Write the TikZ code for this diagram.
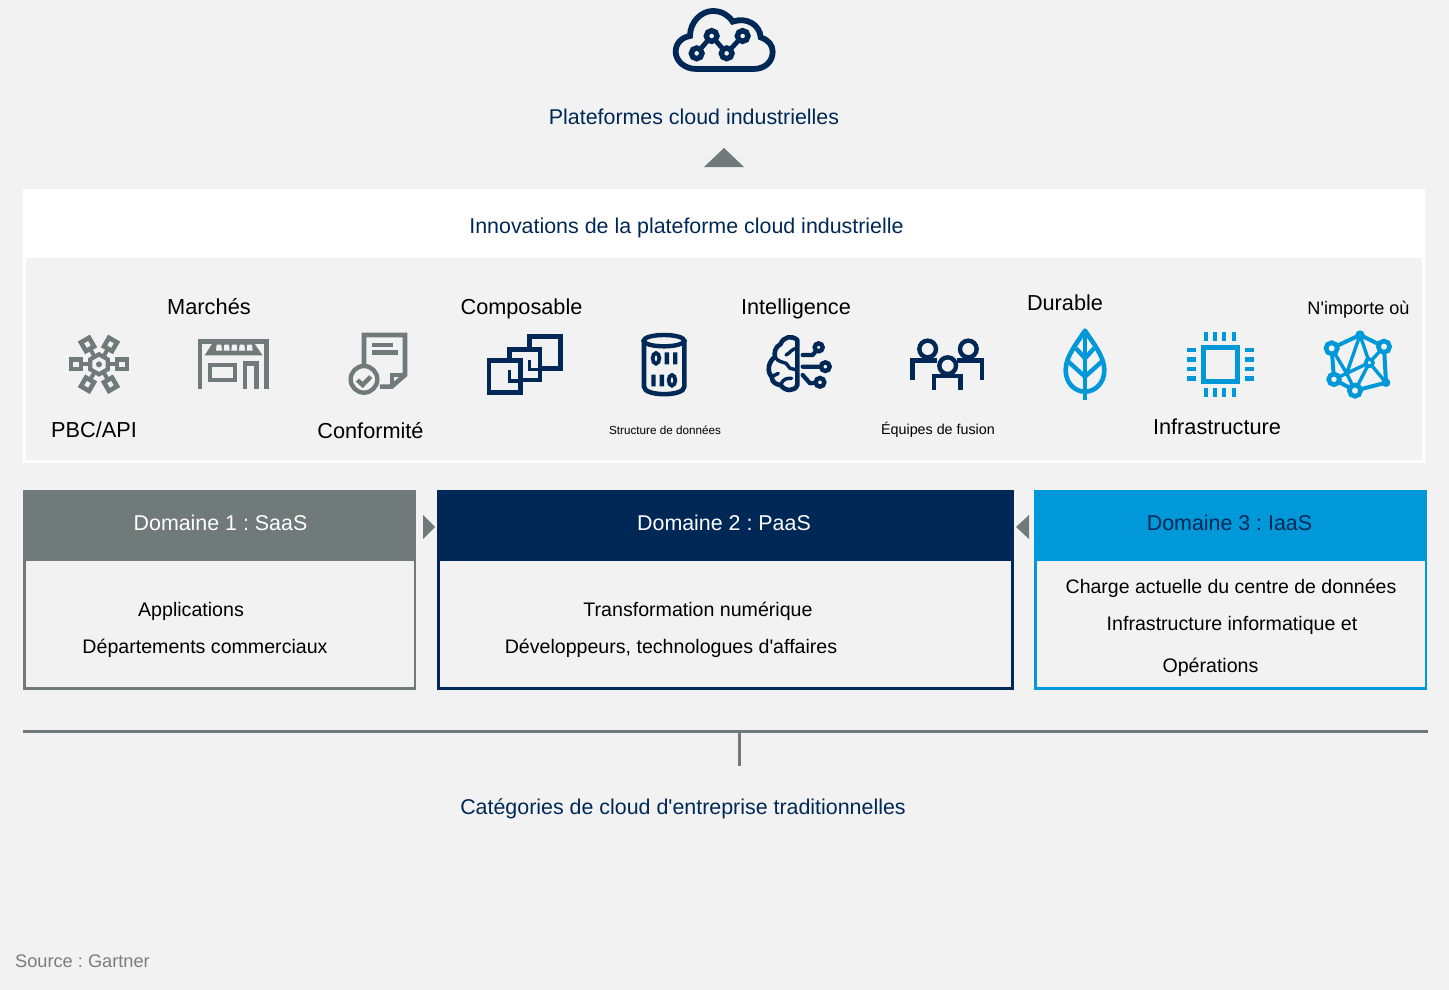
\documentclass[tikz,border=0pt]{standalone}
\usepackage{fontspec}
\setmainfont{Liberation Sans}[Ligatures=TeXOff]
\frenchspacing
\definecolor{bg}{HTML}{F2F2F2}
\definecolor{navy}{HTML}{002856}
\definecolor{sky}{HTML}{0098D8}
\definecolor{slate}{HTML}{707A79}
\definecolor{srcgrey}{HTML}{7C7C7C}
\tikzset{
  lbl/.style={anchor=base,inner sep=0pt,text=black,font=\fontsize{21.7}{24}\selectfont},
  blbl/.style={lbl,text=navy,font=\fontsize{21.4}{24}\selectfont},
  body/.style={lbl,font=\fontsize{19.6}{24}\selectfont},
  head/.style={lbl,font=\fontsize{21.4}{24}\selectfont},
  icon/.style={x=0.33333pt,y=-0.33333pt,line join=miter},
  tri/.style={fill=slate,draw=none},
}
\begin{document}
\begin{tikzpicture}[x=1pt,y=-1pt]
\useasboundingbox (0,0) rectangle (1449,990);
\fill[bg] (0,0) rectangle (1449,990);
% panel
\fill[white] (23,189) rectangle (1425,463);
\fill[bg] (26,258) rectangle (1422,460);
% domain boxes
\draw[slate,line width=2.6pt] (24.3,491.3) rectangle (415,688.7);
\fill[slate] (23,490) rectangle (416.3,560.5);
\draw[navy,line width=2.6pt] (438.3,491.3) rectangle (1012.7,688.7);
\fill[navy] (437,490) rectangle (1014,560.5);
\draw[sky,line width=2.6pt] (1035.3,491.3) rectangle (1426,688.7);
\fill[sky] (1034,490) rectangle (1427.3,560.5);
% triangles
\fill[tri] (704,167) -- (724,148) -- (744,167) -- cycle;
\fill[tri] (423,515) -- (435,527) -- (423,539) -- cycle;
\fill[tri] (1029,515) -- (1016,527) -- (1029,539) -- cycle;
% bracket
\coordinate (bl) at (23,731);
\coordinate (br) at (1428,731);
\coordinate (bm) at (739.5,731);
\coordinate (bs) at (739.5,766);
\draw[slate,line width=3pt] (bl) -- (br);
\draw[slate,line width=3pt] (bm) -- (bs);
% texts
\node[blbl] (t1) at (694,124.5) {Plateformes cloud industrielles};
\node[blbl] (t2) at (686.5,233.5) {Innovations de la plateforme cloud industrielle};
\node[lbl,font=\fontsize{21.8}{24}\selectfont] (m1) at (209,314) {Marchés};
\node[lbl] (m2) at (94,437) {PBC/API};
\node[lbl] (m3) at (370.5,438) {Conformité};
\node[lbl] (m4) at (521.5,314) {Composable};
\node[lbl,font=\fontsize{11.7}{14}\selectfont] (m5) at (665,434) {Structure de données};
\node[lbl] (m6) at (796,314) {Intelligence};
\node[lbl,font=\fontsize{14.3}{16}\selectfont] (m7) at (938,434) {Équipes de fusion};
\node[lbl] (m8) at (1065,310) {Durable};
\node[lbl] (m9) at (1217,434) {Infrastructure};
\node[lbl,font=\fontsize{18.1}{20}\selectfont] (m10) at (1358.5,314) {N'importe où};
\node[head,text=white] (d1) at (220.5,530) {Domaine 1 : SaaS};
\node[head,text=white] (d2) at (724,530) {Domaine 2 : PaaS};
\node[head,text=navy] (d3) at (1229.5,530) {Domaine 3 : IaaS};
\node[body] (b1) at (191,616) {Applications};
\node[body] (b2) at (205,653) {Départements commerciaux};
\node[body] (b3) at (698,616) {Transformation numérique};
\node[body] (b4) at (671,653) {Développeurs, technologues d'affaires};
\node[body,font=\fontsize{19.5}{24}\selectfont] (b5) at (1231,593) {Charge actuelle du centre de données};
\node[body] (b6) at (1232,630) {Infrastructure informatique et};
\node[body] (b7) at (1210.5,672) {Opérations};
\node[blbl] (t3) at (683,814) {Catégories de cloud d'entreprise traditionnelles};
\node[lbl,text=srcgrey,font=\fontsize{18.2}{22}\selectfont,anchor=base west] (s) at (15,967) {Source : Gartner};
% cloud icon
\begin{scope}[shift={(640,0)},icon,navy]
\draw[line width=5.8pt] (170,207) .. controls (130,207) and (107,180) .. (107,155) .. controls (107,130) and (125,112) .. (150,108) .. controls (150,65) and (185,33) .. (218,33) .. controls (245,33) and (265,45) .. (278,65) .. controls (320,50) and (360,75) .. (362,112) .. controls (385,120) and (398,135) .. (398,155) .. controls (398,185) and (375,207) .. (340,207) -- cycle;
\draw[line width=4.8pt] (170,160) -- (215,108) -- (260,160) -- (308,108);
\foreach \p in {(170,160),(215,108),(260,160),(308,108)}
  \draw[line width=5.4pt,fill=bg] \p circle[radius=16];
\end{scope}
% PBC icon
\begin{scope}[shift={(40,320)},icon,slate]
\draw[line width=4.2pt] (177,133) +(30:30) -- +(90:30) -- +(150:30) -- +(210:30) -- +(270:30) -- +(330:30) -- cycle;
\fill (177,133) circle[radius=9];
\foreach \a in {0,60,120,180,240,300}{
  \begin{scope}[shift={(177,133)},rotate=\a]
  \draw[line width=4pt] (30,0) -- (52,0);
  \draw[line width=4.6pt] (54,-14) rectangle (84,14);
  \end{scope}
}
% store
\draw[line width=4.6pt] (480,208) -- (480,65) -- (680,65) -- (680,208);
\fill (516,72) -- (644,72) -- (668,106) -- (494,106) -- cycle;
\foreach \x in {530,553,576,599,622}
  \fill[bg] (\x,74) -- (\x+14,74) -- (\x+16,92) -- (\x-2,92) -- cycle;
\draw[line width=4.6pt] (510,135) rectangle (585,180);
\draw[line width=4.6pt] (615,208) -- (615,130) -- (650,130) -- (650,208);
% document
\draw[line width=4.6pt] (972,135) -- (972,45) -- (1095,45) -- (1095,165) -- (1055,200) -- (1020,200);
\draw[line width=3.8pt] (1095,165) -- (1055,165) -- (1055,200);
\draw[line width=4.6pt] (995,75) -- (1060,75) (995,98) -- (1073,98);
\draw[line width=4.4pt] (972,178) circle[radius=40];
\draw[line width=4.4pt] (952,180) -- (968,195) -- (992,170);
\end{scope}
% composable, data, brain
\begin{scope}[shift={(470,320)},icon,navy]
\draw[line width=4.6pt] (57,122) rectangle (152,218);
\draw[line width=4.6pt] (118,122) -- (118,88) -- (210,88) -- (210,180) -- (152,180);
\draw[line width=4.6pt] (178,88) -- (178,50) -- (272,50) -- (272,145) -- (210,145);
\draw[line width=3.6pt] (148,118) -- (148,183) -- (118,183) -- (118,150);
\draw[line width=3.6pt] (208,85) -- (208,148) -- (178,148) -- (178,120);
% cylinder
\draw[line width=4.6pt] (522,60) -- (522,200) .. controls (522,230) and (643,230) .. (643,200) -- (643,60);
\draw[line width=4.4pt] (582,62) ellipse[x radius=61,y radius=17];
\draw[line width=3.8pt] (558,115) ellipse[x radius=10,y radius=16];
\fill (584,97) rectangle (597,133) (609,97) rectangle (622,133);
\fill (544,164) rectangle (557,199) (569,164) rectangle (582,199);
\draw[line width=3.8pt] (606,181) ellipse[x radius=10,y radius=16];
% brain
\draw[line width=4.6pt,line join=round,line cap=round] (982,60) .. controls (965,45) and (940,50) .. (932,72) .. controls (915,80) and (912,100) .. (915,110) .. controls (895,125) and (890,155) .. (905,170) .. controls (905,190) and (925,195) .. (932,195) .. controls (945,215) and (975,215) .. (982,195) -- cycle;
\draw[line width=3.4pt,line cap=round] (982,85) .. controls (965,85) and (960,100) .. (948,105) (915,112) .. controls (925,125) and (935,125) .. (948,130) -- (960,145) -- (982,150) (932,195) .. controls (940,175) and (950,175) .. (965,175) (905,170) -- (925,160);
\draw[line width=4.2pt,line cap=round,line join=round] (998,105) -- (1028,105) -- (1038,93) (998,140) -- (1052,140) (998,165) -- (1020,190) -- (1036,188);
\draw[line width=4.4pt] (1046,82) circle[radius=12] (1066,140) circle[radius=13] (1050,187) circle[radius=13];
\end{scope}
% team, leaf, chip, network
\begin{scope}[shift={(900,320)},icon]
\begin{scope}[navy]
\draw[line width=4.4pt] (38,181) -- (38,122) -- (112,122) (172,122) -- (246,122) -- (246,181);
\draw[line width=4.4pt] (102,209) -- (102,168) -- (182,168) -- (182,209);
\draw[line width=4.4pt] (83,87) circle[radius=25] (205,87) circle[radius=25] (143,137) circle[radius=25];
\end{scope}
\begin{scope}[sky]
\draw[line width=4.6pt,line join=round] (555,32) .. controls (530,70) and (497,110) .. (497,150) .. controls (497,190) and (525,215) .. (555,215) .. controls (585,215) and (613,190) .. (613,150) .. controls (613,110) and (580,70) .. (555,32) -- cycle;
\draw[line width=4.6pt] (555,35) -- (555,240);
\draw[line width=4.4pt] (528,85) -- (555,115) -- (582,85) (505,125) -- (555,170) -- (605,125);
\draw[line width=5.2pt] (910,82) rectangle (1012,185);
\foreach \x in {917,945,973,1001}{
  \fill (\x-6,35) rectangle (\x+6,62);
  \fill (\x-6,205) rectangle (\x+6,232);
}
\foreach \y in {90,118,147,176}{
  \fill (862,\y-7) rectangle (888,\y+7);
  \fill (1035,\y-7) rectangle (1062,\y+7);
}
\draw[line width=4pt,line join=round] (1380,45) -- (1295,85) -- (1302,178) -- (1365,212) -- (1458,188) -- (1452,80) -- cycle;
\draw[line width=3.4pt] (1380,45) -- (1340,160) -- (1365,212) (1380,45) -- (1408,128) -- (1458,188) (1295,85) -- (1340,160) -- (1302,178) (1340,160) -- (1408,128) -- (1452,80) (1365,212) -- (1408,128);
\fill (1380,45) circle[radius=14] (1458,188) circle[radius=13];
\draw[line width=4.6pt,fill=bg] (1295,85) circle[radius=17] (1452,80) circle[radius=17] (1302,178) circle[radius=16] (1365,212) circle[radius=17];
\draw[line width=3.6pt,fill=bg] (1408,128) circle[radius=11];
\end{scope}
\end{scope}
\end{tikzpicture}
\end{document}
